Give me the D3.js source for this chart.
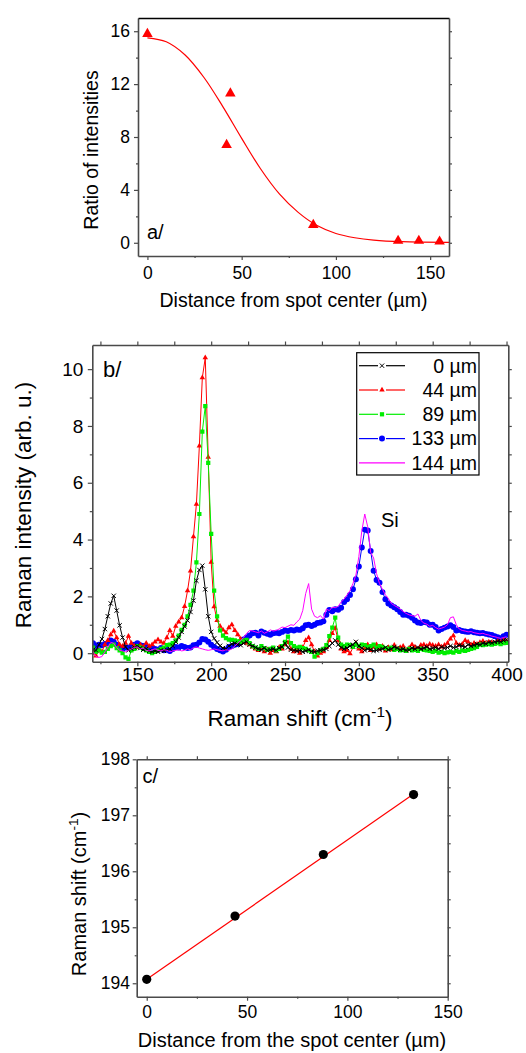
<!DOCTYPE html>
<html><head><meta charset="utf-8">
<script src="https://cdn.jsdelivr.net/npm/d3@7"></script>
<style>body{margin:0;background:#fff}svg{display:block}</style>
</head><body><svg id="c" width="526" height="1053"></svg>
<script>
// ---------- Panel a data ----------
const distA = [0, 42, 44, 88, 133, 144, 155];
const ratioA = [15.8, 7.4, 11.3, 1.35, 0.15, 0.15, 0.1];
const fitDistA = [0, 10, 20, 30, 40, 50, 60, 70, 80, 90, 100, 110, 120, 135, 160];
const fitRatioA = [15.5, 15.2, 14.2, 12.5, 10.3, 7.9, 5.6, 3.7, 2.3, 1.3, 0.7, 0.38, 0.2, 0.08, 0.03];
const ticksAx = [0, 50, 100, 150], minorAx = [25, 75, 125];
const ticksAy = [0, 4, 8, 12, 16], minorAy = [2, 6, 10, 14];

// ---------- Panel b data ----------
const shiftB = [
120,122,124,126,128,130,132,134,136,138,
140,142,144,146,148,150,152,154,156,158,
160,162,164,166,168,170,172,174,176,178,
180,182,184,186,188,190,192,194,196,198,
200,202,204,206,208,210,212,214,216,218,
220,222,224,226,228,230,232,234,236,238,
240,242,244,246,248,250,252,254,256,258,
260,262,264,266,268,270,272,274,276,278,
280,282,284,286,288,290,292,294,296,298,
300,302,304,306,308,310,312,314,316,318,
320,322,324,326,328,330,332,334,336,338,
340,342,344,346,348,350,352,354,356,358,
360,362,364,366,368,370,372,374,376,378,
380,382,384,386,388,390,392,394,396,398,
400];
const int0 = [
0.12,0.10,0.30,0.50,0.85,1.30,1.75,2.02,1.50,0.98,
0.55,0.22,0.10,0.15,0.20,0.25,0.18,0.12,0.15,0.08,
0.05,0.08,0.05,0.10,0.08,0.12,0.15,0.25,0.40,0.55,
0.75,0.94,1.15,1.45,1.85,2.55,2.93,3.08,2.25,1.30,
0.75,0.52,0.38,0.26,0.18,0.15,0.25,0.32,0.35,0.30,
0.28,0.35,0.40,0.30,0.25,0.20,0.15,0.12,0.18,0.10,
0.12,0.15,0.10,0.18,0.22,0.35,0.20,0.12,0.10,0.08,
0.10,0.05,0.08,0.12,0.06,0.05,0.08,0.10,0.12,0.15,
0.25,0.35,0.45,0.30,0.20,0.15,0.18,0.25,0.30,0.40,
0.25,0.18,0.10,0.15,0.12,0.08,0.10,0.12,0.15,0.20,
0.12,0.15,0.22,0.18,0.12,0.15,0.10,0.12,0.18,0.15,
0.20,0.15,0.18,0.22,0.15,0.18,0.20,0.15,0.22,0.18,
0.20,0.25,0.20,0.22,0.28,0.25,0.22,0.30,0.25,0.28,
0.32,0.30,0.35,0.33,0.38,0.36,0.40,0.42,0.40,0.45,
0.47];
const int44 = [
0.00,-0.10,0.10,0.05,0.30,0.45,0.65,0.78,0.55,0.30,
0.25,0.35,0.60,0.35,0.25,0.20,0.30,0.22,0.35,0.25,
0.30,0.40,0.48,0.40,0.35,0.55,0.80,0.60,0.95,1.10,
1.25,1.65,2.20,2.90,4.10,5.25,7.30,9.70,10.40,6.90,
3.20,1.64,1.15,0.95,0.82,0.72,0.90,1.00,0.80,0.65,
0.50,0.42,0.35,0.30,0.22,0.15,0.10,0.20,0.05,0.12,
0.00,0.10,0.05,0.20,0.15,0.30,0.38,0.15,0.05,0.10,
0.00,0.20,0.45,0.55,0.30,0.05,-0.10,0.00,0.05,0.20,
0.45,0.70,0.88,0.45,0.15,0.05,0.10,-0.02,0.20,0.35,
0.15,0.05,0.18,0.30,0.10,0.22,0.30,0.15,0.25,0.08,
0.20,0.12,0.28,0.15,0.20,0.25,0.10,0.18,0.30,0.22,
0.15,0.28,0.30,0.25,0.32,0.28,0.25,0.30,0.22,0.28,
0.35,0.50,0.62,0.35,0.28,0.32,0.45,0.40,0.30,0.35,
0.32,0.38,0.42,0.35,0.40,0.38,0.35,0.42,0.40,0.45,
0.42];
const int89 = [
0.20,0.05,0.10,0.02,0.05,0.15,0.25,0.30,0.18,0.10,
0.00,-0.15,-0.20,0.10,0.15,0.25,0.20,0.15,0.10,0.05,
0.00,0.05,0.10,0.15,0.20,0.28,0.30,0.35,0.45,0.62,
0.82,1.00,1.30,1.70,2.20,3.20,4.90,7.80,8.70,6.70,
4.20,2.20,1.30,0.80,0.62,0.53,0.48,0.47,0.45,0.42,
0.40,0.45,0.47,0.35,0.25,0.20,0.15,0.25,0.18,0.12,
0.15,0.20,0.10,0.15,0.25,0.40,0.58,0.35,0.25,0.20,
0.22,0.18,0.15,0.10,0.05,-0.12,0.00,0.10,0.15,0.28,
0.60,0.90,1.25,0.55,0.30,0.25,0.30,0.28,0.22,0.30,
0.25,0.30,0.28,0.22,0.25,0.30,0.20,0.25,0.22,0.18,
0.15,0.20,0.12,0.15,0.10,0.12,0.08,0.15,0.10,0.12,
0.08,0.15,0.12,0.10,0.08,0.05,0.08,0.02,0.05,0.00,
0.03,0.05,0.02,0.08,0.05,0.10,0.08,0.12,0.15,0.18,
0.22,0.30,0.28,0.30,0.32,0.30,0.33,0.35,0.32,0.35,
0.36];
const int133 = [
0.35,0.25,0.30,0.28,0.32,0.35,0.45,0.40,0.30,0.20,
0.15,0.20,0.18,0.25,0.30,0.35,0.28,0.25,0.22,0.18,
0.20,0.15,0.12,0.18,0.10,0.12,0.08,0.15,0.22,0.20,
0.25,0.22,0.18,0.20,0.28,0.30,0.38,0.50,0.48,0.40,
0.30,0.22,0.15,0.10,0.06,0.12,0.22,0.25,0.30,0.32,
0.40,0.48,0.55,0.62,0.70,0.72,0.62,0.76,0.72,0.68,
0.65,0.70,0.72,0.70,0.75,0.80,0.78,0.82,0.80,0.83,
0.82,0.88,0.98,1.00,0.96,1.00,1.06,1.08,1.12,1.35,
1.52,1.48,1.55,1.53,1.60,1.80,1.90,2.05,2.25,2.60,
3.05,3.72,4.35,4.32,3.60,2.90,2.58,2.48,2.15,1.90,
1.75,1.68,1.62,1.55,1.45,1.35,1.35,1.32,1.25,1.15,
1.08,1.06,1.10,1.08,1.00,1.00,0.92,0.80,0.85,0.90,
0.94,0.98,0.92,0.80,0.82,0.78,0.76,0.75,0.77,0.74,
0.72,0.70,0.71,0.68,0.66,0.64,0.60,0.56,0.53,0.60,
0.65];
const int144 = [
0.05,-0.12,-0.15,-0.12,0.05,0.20,0.38,0.35,0.20,0.10,
0.08,0.05,0.10,0.15,0.20,0.22,0.15,0.18,0.10,0.08,
0.12,0.15,0.10,0.08,0.12,0.10,0.05,0.08,0.10,0.12,
0.08,0.10,0.15,0.12,0.20,0.22,0.18,0.15,0.12,0.10,
0.12,0.15,0.12,0.10,0.08,0.12,0.10,0.15,0.25,0.35,
0.45,0.55,0.70,0.80,0.78,0.75,0.72,0.78,0.70,0.75,
0.82,0.78,0.80,0.85,0.92,0.90,0.95,1.00,0.98,1.10,
1.20,1.50,2.10,2.45,1.55,1.30,1.25,1.32,1.20,1.55,
1.50,1.62,1.60,1.65,1.80,1.90,2.05,2.20,2.45,2.75,
3.40,4.30,4.90,4.45,3.55,3.35,2.80,2.45,2.25,2.05,
1.92,1.75,1.68,1.62,1.55,1.47,1.40,1.35,1.32,1.30,
1.38,1.15,1.06,1.02,0.95,0.98,0.90,0.85,0.88,0.92,
1.00,1.25,1.28,1.00,0.85,0.80,0.78,0.75,0.76,0.72,
0.70,0.68,0.70,0.66,0.64,0.60,0.58,0.55,0.52,0.55,
0.58];
const legendB = ["0 µm", "44 µm", "89 µm", "133 µm", "144 µm"];
const ticksBx = [150, 200, 250, 300, 350, 400], minorBx = [125, 175, 225, 275, 325, 375];
const ticksBy = [0, 2, 4, 6, 8, 10], minorBy = [1, 3, 5, 7, 9];

// ---------- Panel c data ----------
const distC = [0, 44, 88, 133];
const shiftC = [194.07, 195.2, 196.3, 197.37];
const fitDistC = [0, 133];
const fitShiftC = [194.07, 197.38];
const ticksCx = [0, 50, 100, 150], minorCx = [25, 75, 125];
const ticksCy = [194, 195, 196, 197, 198], minorCy = [194.5, 195.5, 196.5, 197.5];

// ---------- drawing ----------
const FONT = "'Liberation Sans', Arial, Helvetica, sans-serif";
const AX = "#4a4a4a";
const svg = d3.select("#c");

function axes(g, x, y, o) {
  const [xl, xr] = x.range(), [yb, yt] = y.range();
  function style(a, fs) {
    a.attr("font-family", FONT).attr("font-size", fs);
    a.select(".domain").attr("stroke", AX).attr("stroke-width", 1.6);
    a.selectAll(".tick line").attr("stroke", AX).attr("stroke-width", 1.2);
    a.selectAll(".tick text").attr("fill", "#000");
    return a;
  }
  style(g.append("g").attr("transform", `translate(0,${yb})`)
    .call(d3.axisBottom(x).tickValues(o.xMajor).tickSize(o.tick).tickSizeOuter(0).tickPadding(o.xPad).tickFormat(d3.format("d"))), o.fs);
  style(g.append("g").attr("transform", `translate(0,${yb})`)
    .call(d3.axisBottom(x).tickValues(o.xMinor).tickSize(o.minor).tickFormat("")), o.fs).select(".domain").remove();
  style(g.append("g").attr("transform", `translate(${xl},0)`)
    .call(d3.axisLeft(y).tickValues(o.yMajor).tickSize(o.tick).tickSizeOuter(0).tickPadding(o.yPad).tickFormat(d3.format("d"))), o.fs);
  style(g.append("g").attr("transform", `translate(${xl},0)`)
    .call(d3.axisLeft(y).tickValues(o.yMinor).tickSize(o.minor).tickFormat("")), o.fs).select(".domain").remove();
  const top = style(g.append("g").attr("transform", `translate(0,${yt})`)
    .call(d3.axisTop(x).tickValues(o.topTicks ? o.xMajor.concat(o.xMinor) : []).tickSize(o.minor + 1).tickSizeOuter(0).tickFormat("")), o.fs);
  if (o.topColor) top.select(".domain").attr("stroke", o.topColor);
  style(g.append("g").attr("transform", `translate(${xr},0)`)
    .call(d3.axisRight(y).tickValues(o.yMajor.concat(o.yMinor)).tickSize(o.minor + 1).tickSizeOuter(0).tickFormat("")), o.fs);
}

function label(g, txt, x, y, fs, rot, anchor) {
  const t = g.append("text").attr("font-family", FONT).attr("font-size", fs).attr("fill", "#000")
    .attr("text-anchor", anchor || "middle");
  if (rot) t.attr("transform", `translate(${x},${y}) rotate(-90)`);
  else t.attr("x", x).attr("y", y);
  return t.text(txt);
}
function labelCm(g, x, y, fs, rot) {
  const t = g.append("text").attr("font-family", FONT).attr("font-size", fs).attr("fill", "#000")
    .attr("text-anchor", "middle");
  if (rot) t.attr("transform", `translate(${x},${y}) rotate(-90)`);
  else t.attr("x", x).attr("y", y);
  t.append("tspan").text("Raman shift (cm");
  t.append("tspan").attr("font-size", fs * 0.68).attr("dy", -fs * 0.42).text("-1");
  t.append("tspan").attr("dy", fs * 0.42).text(")");
}

// ===== Panel a =====
{
  const g = svg.append("g");
  const x = d3.scaleLinear().domain([-5, 160]).range([138, 449]);
  const y = d3.scaleLinear().domain([-1, 17]).range([256, 18]);
  const line = d3.line().x((d, i) => x(fitDistA[i])).y(d => y(d)).curve(d3.curveCatmullRom);
  g.append("path").attr("d", line(fitRatioA)).attr("fill", "none").attr("stroke", "#ff0000").attr("stroke-width", 1.2);
  g.selectAll(".tri").data(ratioA).join("path")
    .attr("transform", (d, i) => `translate(${x(distA[i])},${y(d)})`)
    .attr("d", d3.symbol(d3.symbolTriangle, 48)).attr("fill", "#ff0000");
  axes(g, x, y, {xMajor: ticksAx, xMinor: minorAx, yMajor: ticksAy, yMinor: minorAy,
    tick: 4, minor: 2, xPad: 6.5, yPad: 4, fs: 17.5, topTicks: false, topColor: "#000"});
  label(g, "a/", 147, 239, 20, false, "start");
  label(g, "Ratio of intensities", 98, 150, 19.5, true);
  label(g, "Distance from spot center (µm)", 293.5, 307, 19.5);
}

// ===== Panel b =====
{
  const g = svg.append("g");
  const x = d3.scaleLinear().domain([119.5, 401.2]).range([92.3, 508.3]);
  const y = d3.scaleLinear().domain([-0.3, 10.85]).range([661.7, 345]);
  svg.append("defs").append("clipPath").attr("id", "clipB").append("rect")
    .attr("x", 92.3).attr("y", 345).attr("width", 416).attr("height", 316.7);
  const series = [
    {vals: int0, color: "#000000", sym: d3.symbolTimes || d3.symbolX || d3.symbolCross, size: 14, stroke: true, label: legendB[0]},
    {vals: int44, color: "#ff0000", sym: d3.symbolTriangle, size: 13, label: legendB[1]},
    {vals: int89, color: "#00ee00", sym: d3.symbolSquare, size: 18, label: legendB[2]},
    {vals: int133, color: "#0000ff", sym: d3.symbolCircle, size: 28, label: legendB[3]},
    {vals: int144, color: "#ff00ff", sym: null, label: legendB[4]}
  ];
  const drawOrder = [3, 1, 2, 0, 4];
  const plot = g.append("g").attr("clip-path", "url(#clipB)");
  const line = d3.line().x((d, i) => x(shiftB[i])).y(d => y(d));
  drawOrder.forEach(k => {
    const s = series[k];
    plot.append("path").attr("d", line(s.vals)).attr("fill", "none")
      .attr("stroke", s.color).attr("stroke-width", 1);
    if (s.sym) {
      plot.append("g").selectAll("path").data(s.vals).join("path")
        .attr("transform", (d, i) => `translate(${x(shiftB[i])},${y(d)})`)
        .attr("d", d3.symbol(s.sym, s.size))
        .attr("fill", s.stroke ? "none" : s.color)
        .attr("stroke", s.stroke ? s.color : "none").attr("stroke-width", 1);
    }
  });
  axes(g, x, y, {xMajor: ticksBx, xMinor: minorBx, yMajor: ticksBy, yMinor: minorBy,
    tick: 4.5, minor: 2.5, xPad: 1, yPad: 4.5, fs: 19, topTicks: true});
  label(g, "b/", 103, 377, 22, false, "start");
  label(g, "Si", 381, 527, 20, false, "start");
  label(g, "Raman intensity (arb. u.)", 31, 505, 22.5, true);
  labelCm(g, 300, 726, 22.5, false);
  const lg = g.append("g");
  lg.append("rect").attr("x", 356.7).attr("y", 352.7).attr("width", 122.3).attr("height", 122.3)
    .attr("fill", "#fff").attr("stroke", "#000").attr("stroke-width", 1.2);
  series.forEach((s, r) => {
    const yy = 365.7 + r * 24.3;
    if (s.sym) {
      lg.append("line").attr("x1", 359).attr("x2", 378).attr("y1", yy).attr("y2", yy).attr("stroke", s.color).attr("stroke-width", 1.2);
      lg.append("line").attr("x1", 386).attr("x2", 405).attr("y1", yy).attr("y2", yy).attr("stroke", s.color).attr("stroke-width", 1.2);
      lg.append("path").attr("transform", `translate(382,${yy})`).attr("d", d3.symbol(s.sym, s.size))
        .attr("fill", s.stroke ? "none" : s.color).attr("stroke", s.stroke ? s.color : "none");
    } else {
      lg.append("line").attr("x1", 359).attr("x2", 405).attr("y1", yy).attr("y2", yy).attr("stroke", s.color).attr("stroke-width", 1.2);
    }
    label(lg, s.label, 477, yy + 6.8, 19.5, false, "end");
  });
}

// ===== Panel c =====
{
  const g = svg.append("g");
  const x = d3.scaleLinear().domain([-5, 150]).range([136.7, 447.7]);
  const y = d3.scaleLinear().domain([193.76, 198]).range([996.7, 759.3]);
  const line = d3.line().x((d, i) => x(fitDistC[i])).y(d => y(d));
  g.append("path").attr("d", line(fitShiftC)).attr("fill", "none").attr("stroke", "#ff0000").attr("stroke-width", 1.2);
  g.selectAll(".pt").data(shiftC).join("circle")
    .attr("cx", (d, i) => x(distC[i])).attr("cy", d => y(d)).attr("r", 4.6).attr("fill", "#000");
  axes(g, x, y, {xMajor: ticksCx, xMinor: minorCx, yMajor: ticksCy, yMinor: minorCy,
    tick: 4, minor: 2, xPad: 5, yPad: 2.7, fs: 17.5, topTicks: true});
  label(g, "c/", 142.5, 783, 20, false, "start");
  labelCm(g, 86, 894, 20, true);
  label(g, "Distance from the spot center (µm)", 292, 1047, 20);
}
</script></body></html>
